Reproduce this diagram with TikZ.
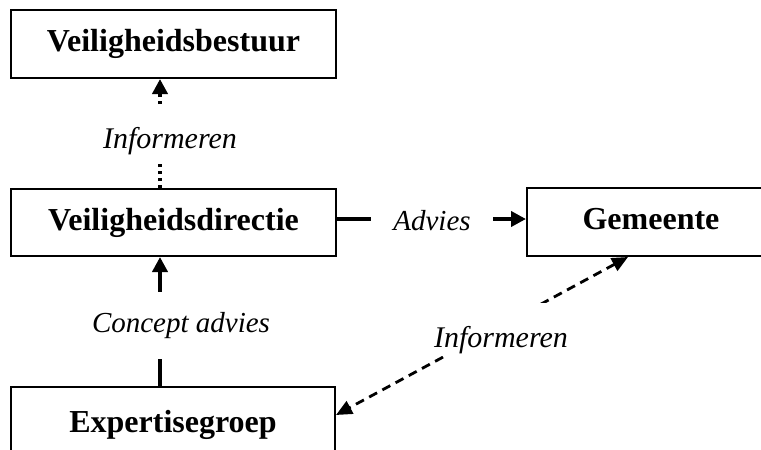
\documentclass[tikz,border=0pt]{standalone}
\usepackage{fontspec}
\setmainfont{Liberation Serif}
\usetikzlibrary{arrows.meta}
\begin{document}
\begin{tikzpicture}[x=1pt,y=-1pt,
  box/.style={draw, line width=2pt, inner sep=0pt,
    font=\fontsize{32}{38}\selectfont\bfseries, text height=22pt, text depth=7pt},
  lab/.style={fill=white, inner sep=0pt,
    font=\fontsize{#1}{34}\selectfont\itshape, text depth=0pt},
  lab/.default=30,
  thickline/.style={line width=4.5pt},
  dotline/.style={line width=4.5pt, dash pattern=on 3.5pt off 3.5pt},
  dashline/.style={line width=2.8pt, dash pattern=on 9pt off 6pt},
  uptip/.style={-{Triangle[length=15pt,width=15pt]}},
  bothtip/.style={{Triangle[length=16pt,width=14pt]}-{Triangle[length=16pt,width=14pt]}}
]
\useasboundingbox (0,0) rectangle (761,450);

% boxes
\node[box, minimum width=325pt, minimum height=68pt] (bestuur) at (173.5,44) {Veiligheidsbestuur};
\node[box, minimum width=325pt, minimum height=67pt] (directie) at (173.5,222.5) {Veiligheidsdirectie};
\node[box, minimum width=248pt, minimum height=68pt] (gemeente) at (651,222) {Gemeente};
\node[box, minimum width=324pt, minimum height=75pt] (expert) at (173,424.5) {Expertisegroep};

% helper coordinates
\coordinate (vx) at (160,0);
\coordinate (hy) at (0,219);
\coordinate (gx) at (628,0);
\coordinate (ey) at (0,415);

% connectors
\draw[dotline, uptip] (directie.north -| vx) -- (bestuur.south -| vx);
\draw[thickline, uptip] (expert.north -| vx) -- (directie.south -| vx);
\draw[thickline, uptip] (directie.east |- hy) -- (gemeente.west |- hy);
\draw[dashline, bothtip] (gemeente.south -| gx) -- (expert.east |- ey);

% labels
\node[lab, minimum height=54pt, text height=26pt] (inf1) at (170,135) {Informeren};
\node[lab=29, minimum height=67pt, text height=13pt] (ca) at (181,325.5) {Concept advies};
\node[lab=29, minimum width=122pt, text height=22pt] (adv) at (432,219) {Advies};
\node[lab, minimum width=138pt, minimum height=53pt, text height=35pt] (inf2) at (501,329.5) {Informeren};
\end{tikzpicture}
\end{document}
